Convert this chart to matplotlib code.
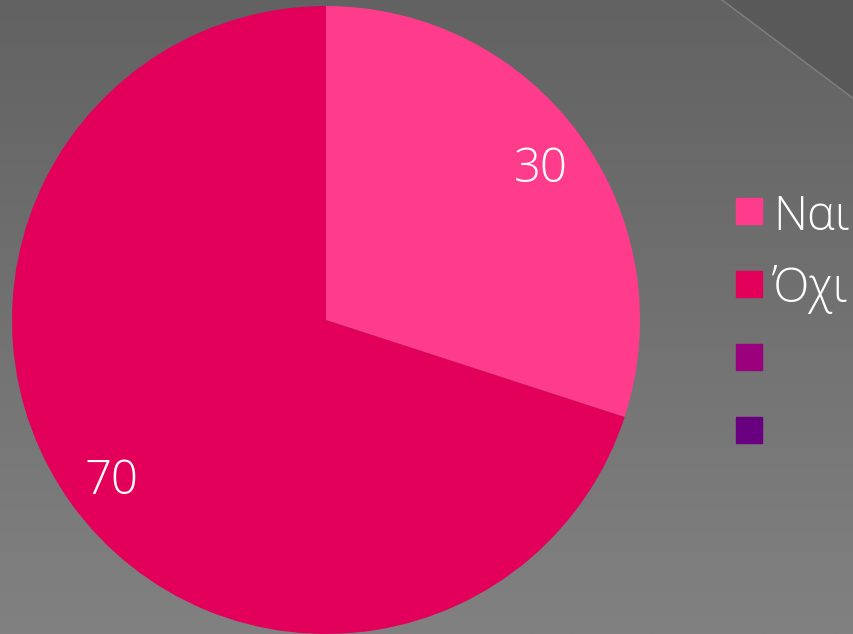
import numpy as np
import matplotlib
matplotlib.use('Agg')
import matplotlib.pyplot as plt
from matplotlib.patches import Rectangle, Polygon
from matplotlib.lines import Line2D

plt.rcParams['font.family'] = ['Open Sans', 'DejaVu Sans']

# Datos
labels = ['Ναι', 'Όχι', '', '']
values = [30, 70]
colors = ['#FF3B8B', '#E3005A', '#9B007D', '#690080']

W, H = 854, 634
fig = plt.figure(figsize=(W / 100, H / 100), dpi=100)

# Fondo con degradado
bg = fig.add_axes([0, 0, 1, 1])
grad = np.linspace(0, 1, 256).reshape(-1, 1)
bg.imshow(grad, cmap=matplotlib.colors.LinearSegmentedColormap.from_list('g', ['#626262', '#818181']),
          aspect='auto', extent=[0, W, H, 0])
bg.set_xlim(0, W)
bg.set_ylim(H, 0)
bg.axis('off')

# Decoración esquina superior derecha
bg.add_patch(Polygon([(722, 0), (W, 0), (W, 99)], closed=True, color='#595959', zorder=2))
bg.add_line(Line2D([722, W], [0, 99], color='#7c7c7c', lw=1.2, zorder=3))

# Gráfico circular
cx, cy, r = 326, 320, 314
ax = fig.add_axes([(cx - r) / W, (H - cy - r) / H, 2 * r / W, 2 * r / H])
wedges, texts, autotexts = ax.pie(values, colors=colors[:2], startangle=90, counterclock=False,
                                  autopct=lambda p: f'{p:.0f}', pctdistance=0.845,
                                  textprops={'color': 'white', 'fontsize': 34, 'fontweight': 'light'},
                                  wedgeprops={'linewidth': 0})
for t in autotexts:
    t.set_va('center_baseline')
ax.set_xlim(-1, 1)
ax.set_ylim(-1, 1)
ax.set_aspect('equal')
ax.axis('off')

# Leyenda
for i, (lab, col) in enumerate(zip(labels, colors)):
    yc = 210.5 + i * 73
    bg.add_patch(Rectangle((736, yc - 13), 26, 26, color=col, zorder=4))
    if lab:
        bg.text(773, yc + 19, lab, color='white', fontsize=34, fontweight='light',
                va='baseline', ha='left', zorder=5)

fig.savefig('out.png', dpi=100)
